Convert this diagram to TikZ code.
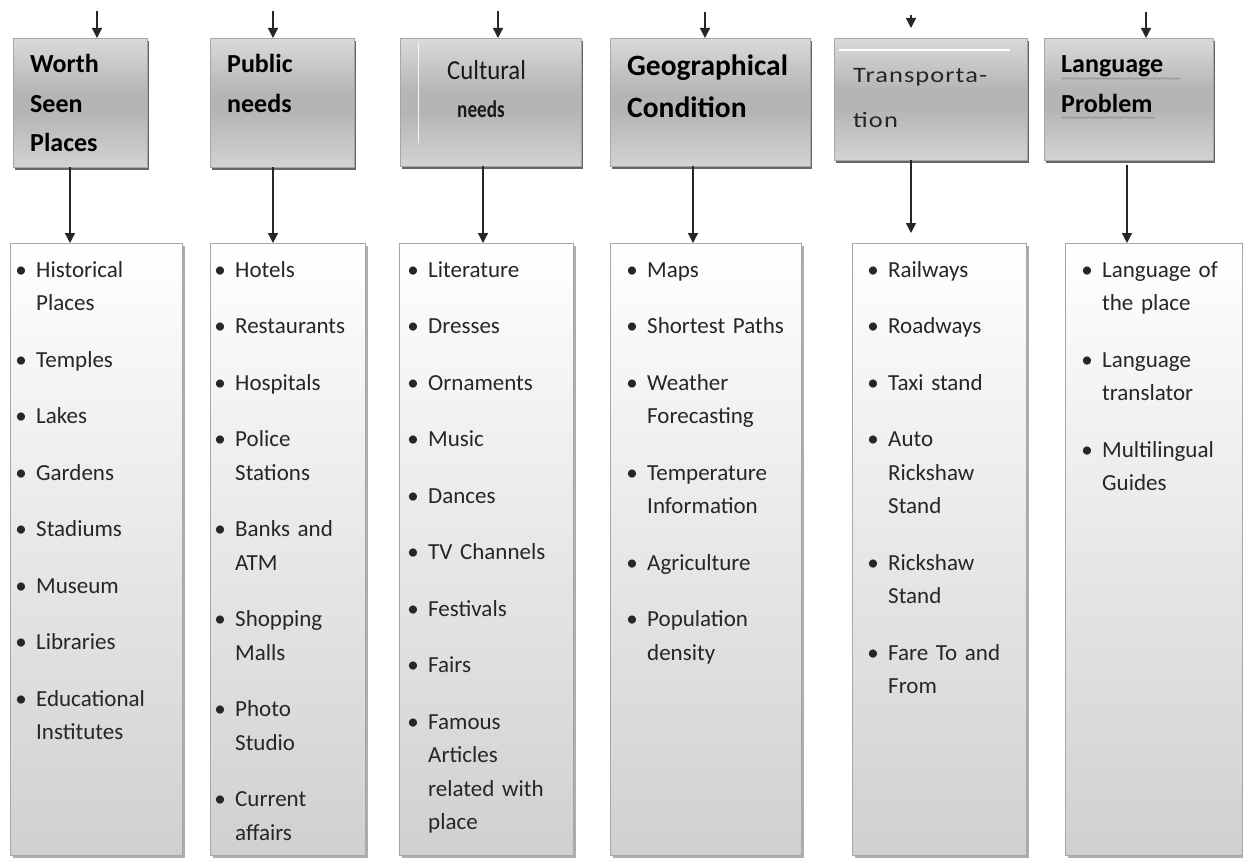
\documentclass[tikz,border=0pt]{standalone}
\usepackage{fontspec}
\setmainfont{Carlito}
\newfontfamily\widefont[FakeStretch=1.2, LetterSpace=5]{Carlito}
\newfontfamily\narrowfont[FakeStretch=0.9]{Carlito}
\newfontfamily\narrowbold[FakeStretch=0.8]{Carlito Bold}
\usepackage{xcolor}
\usepackage{tikz}
\usetikzlibrary{arrows.meta,shadows,decorations.pathmorphing}

\definecolor{hdrtop}{HTML}{DADADA}
\definecolor{hdrmid}{HTML}{B5B5B5}
\definecolor{hdrlow}{HTML}{D3D3D3}
\definecolor{boxlow}{HTML}{D0D0D0}
\definecolor{edgegray}{HTML}{A6A6A6}
\definecolor{itemtxt}{HTML}{262626}
\pgfdeclareverticalshading{hdrshade}{100bp}{color(0bp)=(hdrlow); color(25bp)=(hdrlow); color(46bp)=(hdrmid); color(54bp)=(hdrmid); color(75bp)=(hdrtop); color(100bp)=(hdrtop)}

\newcommand{\bul}{\makebox[0pt]{\textbullet}\hspace*{15pt}}
\newcommand{\ind}{\hspace*{15pt}}
\newcommand{\gap}{\\[23pt]}

\begin{document}
\begin{tikzpicture}[x=1pt, y=-1pt,
    hdr/.style={draw=edgegray, shading=hdrshade, anchor=north west, inner sep=0pt,
        drop shadow={shadow xshift=1.5pt, shadow yshift=-3pt, fill=black!75, opacity=0.8}},
    listbox/.style={draw=edgegray, top color=white, bottom color=boxlow, anchor=north west,
        inner sep=0pt, minimum height=612,
        drop shadow={shadow xshift=3pt, shadow yshift=-3pt, fill=black!45, opacity=0.7}},
    title/.style={anchor=base west, align=left, text width=190pt, inner sep=0pt,
        font=\bfseries\fontsize{26}{39.5}\selectfont},
    items/.style={anchor=base west, align=left, text width=180pt, inner sep=0pt,
        text=itemtxt, font=\fontsize{23}{33.5}\selectfont},
    arr/.style={draw=black!85, line width=1.3pt, -{Triangle[length=10pt,width=10pt]}},
    spell/.style={draw=black!45, line width=0.6pt, decorate,
        decoration={snake, amplitude=0.8pt, segment length=3pt}}]
    \useasboundingbox (0,0) rectangle (1243,859);

    % Encabezados (fila superior)
    \node[hdr, minimum width=134, minimum height=129] (worth) at (13,38) {};
    \node[hdr, minimum width=144, minimum height=129] (public) at (210,38) {};
    \node[hdr, minimum width=181, minimum height=128] (cultural) at (400,38) {};
    \node[hdr, minimum width=200, minimum height=128] (geo) at (610,38) {};
    \node[hdr, minimum width=193, minimum height=122] (transport) at (834,38) {};
    \node[hdr, minimum width=169, minimum height=122] (language) at (1044,38) {};
    \draw[white!70!hdrtop, line width=0.6pt] (418,42) -- (418,143);
    \draw[white, line width=1.8pt] (839,50) -- (1010,50);

    \node[title] (worthTitle) at (30,73) {Worth\\Seen\\Places};
    \node[title] (publicTitle) at (227,73) {Public\\needs};
    \node[title, text=black!90, font=\narrowfont\fontsize{27.5}{38}\selectfont] (culturalTitle) at (447,80)
        {Cultural\\\hspace*{10pt}{\narrowbold\fontsize{24}{24}\selectfont needs}};
    \node[title, font=\bfseries\fontsize{29.5}{42}\selectfont] (geoTitle) at (627,76)
        {Geographical\\Condition};
    \node[title, text=black!85, font=\widefont\fontsize{22}{44}\selectfont] (transportTitle)
        at (853,83) {Transporta-\\tion};
    \node[title] (languageTitle) at (1061,73) {Language\\Problem};
    \draw[spell] (1061,78.5) -- (1180,78.5);
    \draw[spell] (1061,117.5) -- (1155,117.5);

    % Listas (fila inferior)
    \node[listbox, minimum width=172] (worthBox) at (10,243) {};
    \node[listbox, minimum width=155] (publicBox) at (210,243) {};
    \node[listbox, minimum width=174] (culturalBox) at (399,243) {};
    \node[listbox, minimum width=191] (geoBox) at (610,243) {};
    \node[listbox, minimum width=174] (transportBox) at (852,243) {};
    \node[listbox, minimum width=177] (languageBox) at (1065,243) {};

    \node[items] (worthItems) at (21,277) {\bul Historical\\ \ind Places\gap
        \bul Temples\gap \bul Lakes\gap \bul Gardens\gap \bul Stadiums\gap
        \bul Museum\gap \bul Libraries\gap \bul Educational\\ \ind Institutes};
    \node[items] (publicItems) at (220,277) {\bul Hotels\gap \bul Restaurants\gap
        \bul Hospitals\gap \bul Police\\ \ind Stations\gap \bul Banks and\\ \ind ATM\gap
        \bul Shopping\\ \ind Malls\gap \bul Photo\\ \ind Studio\gap \bul Current\\ \ind affairs};
    \node[items] (culturalItems) at (413,277) {\bul Literature\gap \bul Dresses\gap
        \bul Ornaments\gap \bul Music\gap \bul Dances\gap \bul TV Channels\gap
        \bul Festivals\gap \bul Fairs\gap \bul Famous\\ \ind Articles\\ \ind related with\\ \ind place};
    \node[items] (geoItems) at (632,277) {\bul Maps\gap \bul Shortest Paths\gap
        \bul Weather\\ \ind Forecasting\gap \bul Temperature\\ \ind Information\gap
        \bul Agriculture\gap \bul Population\\ \ind density};
    \node[items] (transportItems) at (873,277) {\bul Railways\gap \bul Roadways\gap
        \bul Taxi stand\gap \bul Auto\\ \ind Rickshaw\\ \ind Stand\gap
        \bul Rickshaw\\ \ind Stand\gap \bul Fare To and\\ \ind From};
    \node[items] (languageItems) at (1087,277) {\bul Language of\\ \ind the place\gap
        \bul Language\\ \ind translator\gap \bul Multilingual\\ \ind Guides};

    % Flechas de entrada
    \coordinate (worthIn) at (97,11);
    \coordinate (publicIn) at (273,11);
    \coordinate (culturalIn) at (498,11);
    \coordinate (geoIn) at (705,12);
    \coordinate (transportIn) at (911,15);
    \coordinate (languageIn) at (1146,12);
    \draw[arr] (worthIn) -- (worthIn |- worth.north);
    \draw[arr] (publicIn) -- (publicIn |- public.north);
    \draw[arr] (culturalIn) -- (culturalIn |- cultural.north);
    \draw[arr] (geoIn) -- (geoIn |- geo.north);
    \draw[arr, shorten >=10pt] (transportIn) -- (transportIn |- transport.north);
    \draw[arr] (languageIn) -- (languageIn |- language.north);

    % Flechas hacia las listas
    \coordinate (worthOut) at (70,0);
    \coordinate (publicOut) at (273,0);
    \coordinate (culturalOut) at (483,0);
    \coordinate (geoOut) at (693,0);
    \coordinate (transportOut) at (911,0);
    \coordinate (languageOut) at (1127,0);
    \draw[arr] (worthOut |- worth.south) -- (worthOut |- worthBox.north);
    \draw[arr] (publicOut |- public.south) -- (publicOut |- publicBox.north);
    \draw[arr] (culturalOut |- cultural.south) -- (culturalOut |- culturalBox.north);
    \draw[arr] (geoOut |- geo.south) -- (geoOut |- geoBox.north);
    \draw[arr, shorten >=10pt] (transportOut |- transport.south) -- (transportOut |- transportBox.north);
    \draw[arr, shorten <=5pt] (languageOut |- language.south) -- (languageOut |- languageBox.north);
\end{tikzpicture}
\end{document}
